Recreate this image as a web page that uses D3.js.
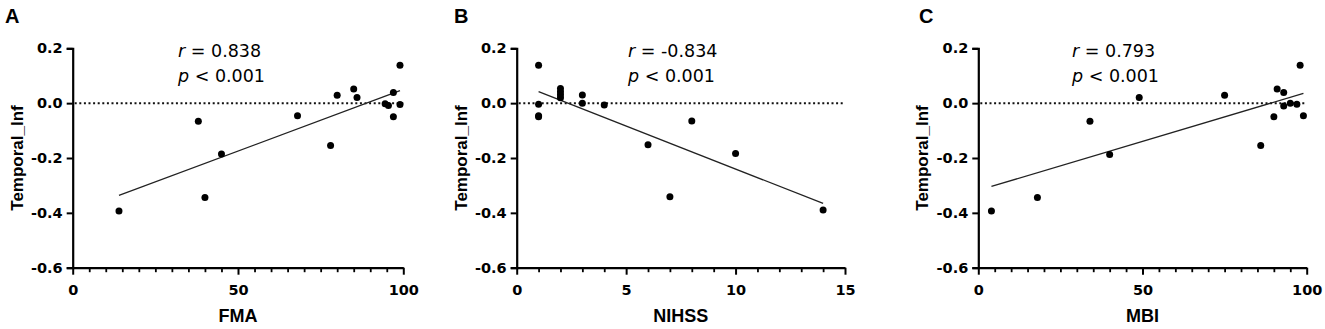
<!DOCTYPE html>
<html>
<head>
<meta charset="utf-8">
<script src="https://cdn.jsdelivr.net/npm/d3@7"></script>
<style>
  body { margin: 0; background: #fff; }
  text { font-family: "Liberation Sans", Arial, sans-serif; }
</style>
</head>
<body>
<div id="chart"></div>
<script>
// Temporal_Inf vs clinical scores
const fmaX = [14, 38, 40, 45, 68, 78, 80, 85, 86, 94.5, 95.5, 97, 97, 99, 99];
const fmaY = [-0.393, -0.066, -0.344, -0.185, -0.046, -0.154, 0.029, 0.052, 0.021, -0.002, -0.009, 0.039, -0.050, 0.138, -0.005];

const nihssX = [1, 1, 1, 1, 2, 2, 2, 2, 3, 3, 4, 6, 7, 8, 10, 14];
const nihssY = [0.138, -0.004, -0.046, -0.050, 0.053, 0.042, 0.031, 0.020, 0.030, 0.000, -0.007, -0.152, -0.341, -0.065, -0.184, -0.390];

const mbiX = [4, 18, 34, 40, 49, 75, 86, 90, 91, 93, 93, 95, 97, 98, 99];
const mbiY = [-0.393, -0.344, -0.066, -0.187, 0.021, 0.029, -0.154, -0.050, 0.052, 0.039, -0.010, 0.000, -0.004, 0.138, -0.046];

const yTicks = [0.2, 0.0, -0.2, -0.4, -0.6];

const panels = [
  { letter: "A", xLabel: "FMA", xs: fmaX, ys: fmaY, max: 100, major: [0, 50, 100], minorStep: 5,
    r: "0.838", left: 72.7, width: 330.6, letterX: 5, noteX: 178 },
  { letter: "B", xLabel: "NIHSS", xs: nihssX, ys: nihssY, max: 15, major: [0, 5, 10, 15], minorStep: 1,
    r: "-0.834", left: 516.7, width: 328.3, letterX: 454, noteX: 628 },
  { letter: "C", xLabel: "MBI", xs: mbiX, ys: mbiY, max: 100, major: [0, 50, 100], minorStep: 5,
    r: "0.793", left: 978.3, width: 328.4, letterX: 919, noteX: 1072 }
];

const width = 1325, height = 329;
const plotTop = 48.3, plotBottom = 267.7;
const tickFont = '"DejaVu Sans", sans-serif';
const fmt = d3.format(".1f");

const svg = d3.select("#chart")
  .append("svg")
  .attr("width", width)
  .attr("height", height);

const y = d3.scaleLinear().domain([-0.6, 0.2]).range([plotBottom, plotTop]);

panels.forEach(function (p) {
  const x = d3.scaleLinear().domain([0, p.max]).range([p.left, p.left + p.width]);
  const g = svg.append("g");

  // panel letter
  g.append("text")
    .attr("x", p.letterX)
    .attr("y", 22.7)
    .style("font-size", "20px")
    .style("font-weight", "bold")
    .text(p.letter);

  // dotted zero line
  g.append("line")
    .attr("x1", x(0) + 2)
    .attr("x2", x(p.max))
    .attr("y1", y(0))
    .attr("y2", y(0))
    .attr("stroke", "#111")
    .attr("stroke-width", 2)
    .attr("stroke-dasharray", "2,2.6");

  // least squares fit over the data range
  const mx = d3.mean(p.xs), my = d3.mean(p.ys);
  let sxy = 0, sxx = 0;
  p.xs.forEach(function (v, i) { sxy += (v - mx) * (p.ys[i] - my); sxx += (v - mx) * (v - mx); });
  const slope = sxy / sxx, icpt = my - slope * mx;
  const ext = d3.extent(p.xs);
  g.append("path")
    .datum(ext)
    .attr("d", d3.line().x(function (d) { return x(d); }).y(function (d) { return y(icpt + slope * d); }))
    .attr("stroke", "#222")
    .attr("stroke-width", 1.3)
    .attr("fill", "none");

  // points
  g.selectAll("circle")
    .data(p.xs)
    .join("circle")
    .attr("cx", function (d) { return x(d); })
    .attr("cy", function (d, i) { return y(p.ys[i]); })
    .attr("r", 3.5)
    .attr("fill", "#000");

  // y axis (plain hyphen minus like the original)
  const yAxis = g.append("g")
    .attr("transform", "translate(" + p.left + ",0)")
    .call(d3.axisLeft(y).tickValues(yTicks)
      .tickFormat(function (d) { return fmt(d).replace("\u2212", "-"); })
      .tickSize(6).tickPadding(4));
  yAxis.select(".domain").attr("stroke-width", 2.2).attr("stroke", "#000");
  yAxis.selectAll(".tick line").attr("stroke-width", 2).attr("stroke", "#000");
  yAxis.selectAll("text")
    .style("font-family", tickFont)
    .style("font-size", "14.5px")
    .style("font-weight", "bold")
    .attr("fill", "#000");

  // x axis with minor ticks
  const minor = d3.range(0, p.max + 0.001, p.minorStep).filter(function (v) { return p.major.indexOf(v) < 0; });
  const xMinor = g.append("g")
    .attr("transform", "translate(0," + plotBottom + ")")
    .call(d3.axisBottom(x).tickValues(minor).tickSize(4.5).tickFormat(""));
  xMinor.select(".domain").remove();
  xMinor.selectAll(".tick line").attr("stroke-width", 1.8).attr("stroke", "#000");

  const xAxis = g.append("g")
    .attr("transform", "translate(0," + plotBottom + ")")
    .call(d3.axisBottom(x).tickValues(p.major).tickSize(7).tickSizeOuter(0).tickPadding(10));
  xAxis.select(".domain").attr("stroke-width", 2.2).attr("stroke", "#000");
  xAxis.selectAll(".tick line").attr("stroke-width", 2).attr("stroke", "#000");
  xAxis.selectAll("text")
    .style("font-family", tickFont)
    .style("font-size", "14.5px")
    .style("font-weight", "bold")
    .attr("fill", "#000");

  // axis titles
  g.append("text")
    .attr("x", x(p.max / 2))
    .attr("y", 322)
    .attr("text-anchor", "middle")
    .style("font-size", "18px")
    .style("font-weight", "bold")
    .text(p.xLabel);

  g.append("text")
    .attr("transform", "translate(" + (p.left - 50) + "," + ((plotTop + plotBottom) / 2) + ") rotate(-90)")
    .attr("text-anchor", "middle")
    .style("font-size", "17px")
    .style("font-weight", "bold")
    .text("Temporal_Inf");

  // statistics note
  const rt = g.append("text").attr("x", p.noteX).attr("y", 56.5)
    .style("font-family", tickFont).style("font-size", "17.5px");
  rt.append("tspan").style("font-style", "italic").text("r");
  rt.append("tspan").text(" = " + p.r);
  const pt = g.append("text").attr("x", p.noteX).attr("y", 82)
    .style("font-family", tickFont).style("font-size", "17.5px");
  pt.append("tspan").style("font-style", "italic").text("p");
  pt.append("tspan").text(" < 0.001");
});
</script>
</body>
</html>
